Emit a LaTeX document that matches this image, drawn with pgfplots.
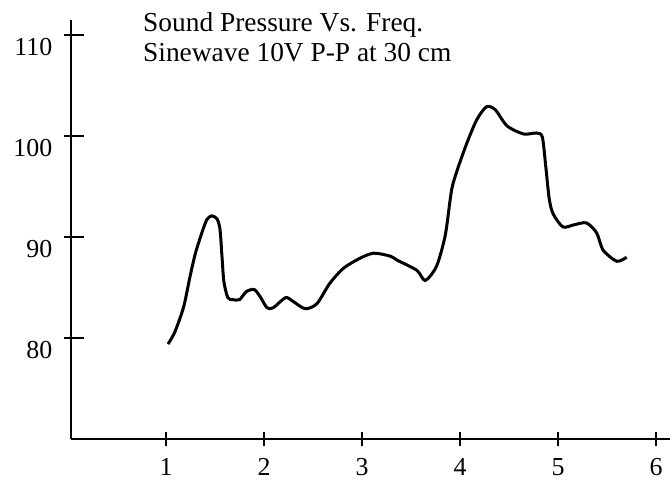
\documentclass[border=0pt]{standalone}
\usepackage{fontspec}
\setmainfont{Liberation Serif}
\usepackage{pgfplots}
\pgfplotsset{compat=1.18}

% curve (freq, SPL in dB)
\pgfplotstableread{
x      y
1.02   79.4
1.09   80.6
1.18   83.1
1.245  86.1
1.30   88.4
1.365  90.4
1.415  91.7
1.465  92.1
1.52   91.8
1.55   90.8
1.57   88.2
1.59   85.6
1.63   84.0
1.68   83.8
1.75   83.8
1.82   84.6
1.90   84.8
1.96   84.1
2.03   83.0
2.095  83.0
2.22   84.0
2.30   83.6
2.42   82.9
2.54   83.4
2.67   85.4
2.81   86.9
2.98   87.9
3.12   88.4
3.29   88.1
3.36   87.7
3.56   86.7
3.645  85.7
3.76   87.1
3.85   90.2
3.915  94.7
3.985  97.0
4.07   99.3
4.17   101.6
4.27   102.9
4.36   102.6
4.48   101.0
4.65   100.2
4.78   100.3
4.84   99.9
4.875  97.0
4.91   93.8
4.95   92.3
5.05   91.0
5.16   91.2
5.29   91.4
5.395  90.4
5.46   88.7
5.60   87.6
5.70   88.0
}\splcurve

\begin{document}
\begin{tikzpicture}
\useasboundingbox (0,0) rectangle (670bp,481bp);
\begin{axis}[
    at={(71bp,42bp)}, anchor=south west,
    scale only axis,
    width=599bp, height=419bp,
    xmin=0.03, xmax=6.143,
    ymin=70, ymax=111.49,
    axis lines*=left,
    axis line style={black, line width=1.6bp},
    xtick={1,2,3,4,5,6},
    ytick={80,90,100,110},
    tick align=center,
    tick style={black, line width=1.4bp},
    xtick style={/pgfplots/major tick length=13bp},
    ytick style={/pgfplots/major tick length=20bp, xshift=3bp},
    /pgf/number format/assume math mode=true,
    ticklabel style={font=\fontsize{26}{28}\selectfont, text=black},
    xticklabel style={yshift=-14bp},
    yticklabel style={xshift=-13bp, yshift=-12bp},
    clip=false,
]
\addplot[black, line width=3bp, smooth, tension=0.45] table[x=x, y=y] {\splcurve};
\end{axis}
\node[anchor=base west, inner sep=0pt, font=\fontsize{27.5}{30}\selectfont, text=black]
    at (143bp,449.3bp) {Sound Pressure Vs. Freq.};
\node[anchor=base west, inner sep=0pt, font=\fontsize{27.5}{30}\selectfont, text=black]
    at (143bp,419.3bp) {Sinewave 10V P-P at 30 cm};
\end{tikzpicture}
\end{document}
